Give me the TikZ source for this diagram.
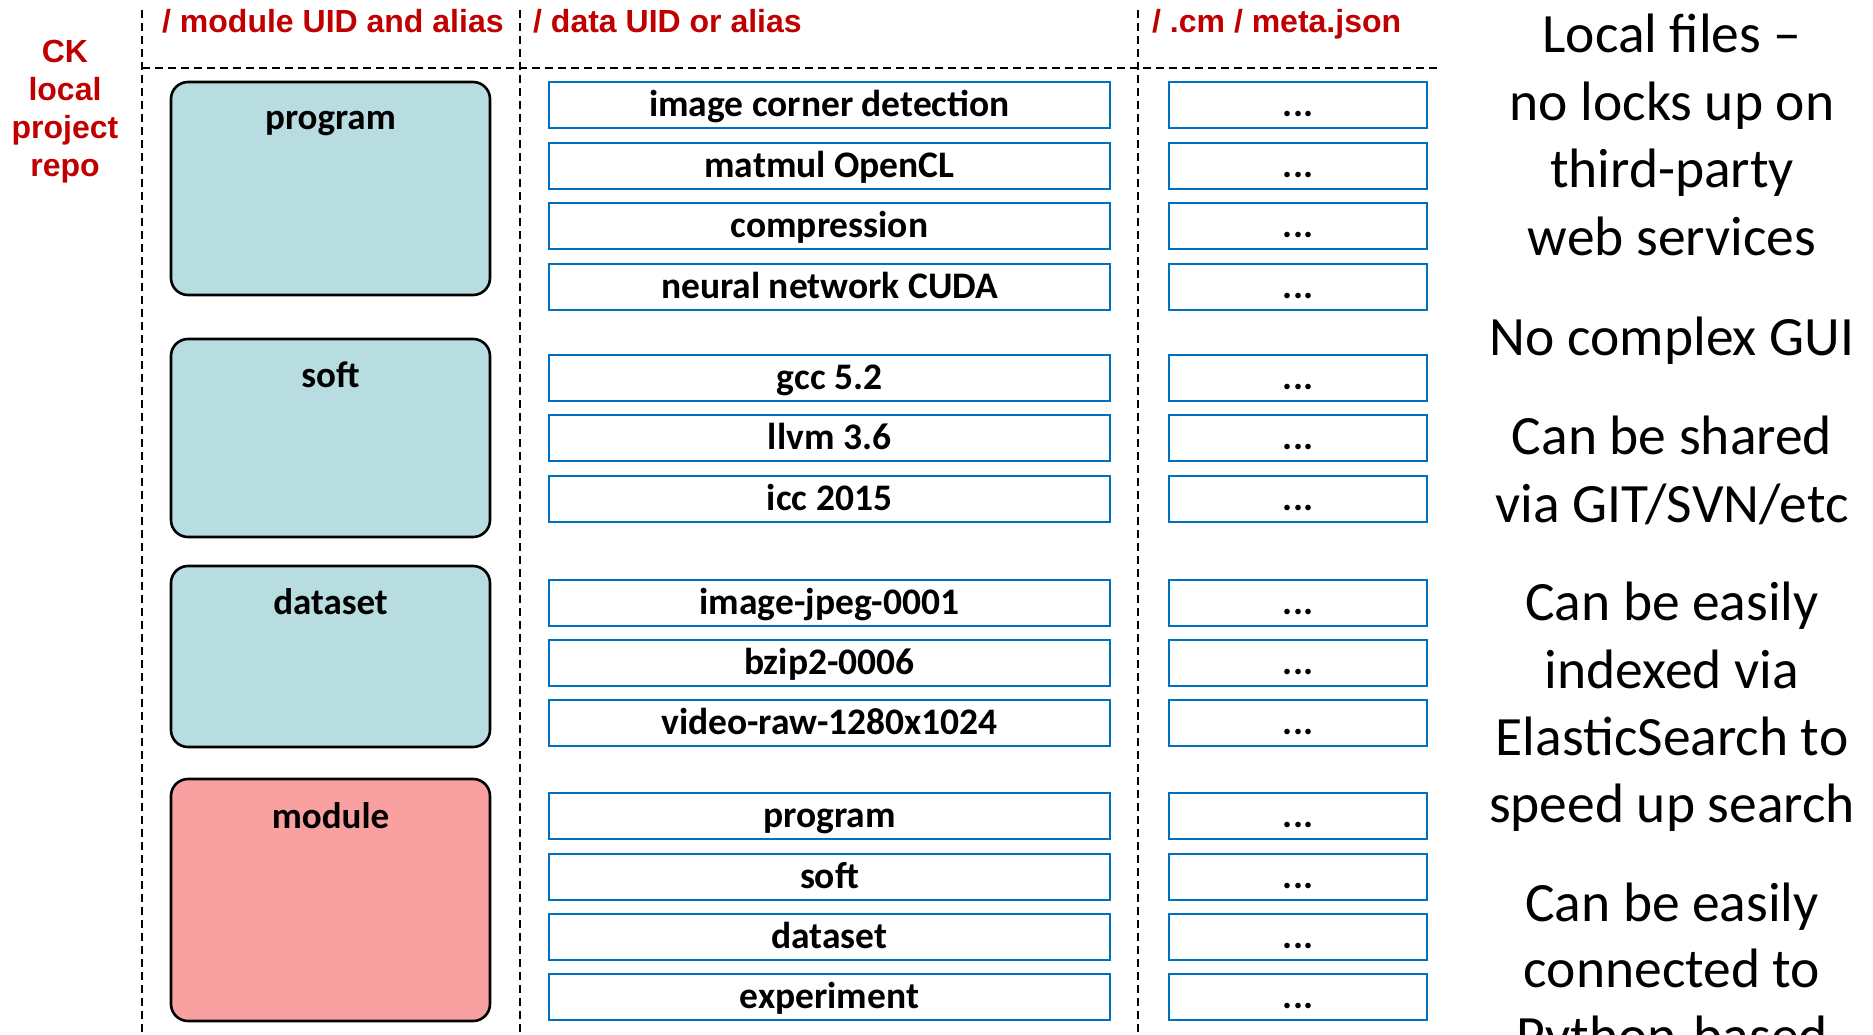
\documentclass[tikz,border=0pt]{standalone}
\usepackage{fontspec}
\newfontfamily\carl{Carlito}
\newfontfamily\arl{Liberation Sans}
\definecolor{ckred}{HTML}{C00000}
\definecolor{ckblue}{HTML}{0070C0}
\definecolor{ckteal}{HTML}{B8DDE0}
\definecolor{ckpink}{HTML}{F9A1A1}
\begin{document}
\begin{tikzpicture}[x=1pt,y=-1pt,
  hdr/.style={anchor=base west, inner sep=0pt, text=ckred, font=\arl\bfseries\fontsize{32}{38}\selectfont},
  cktext/.style={anchor=base, inner sep=0pt, text=ckred, font=\arl\bfseries\fontsize{32}{38}\selectfont},
  modbox/.style={draw=black, line width=2.6pt, rounded corners=17pt, minimum width=319pt, inner sep=0pt},
  modlabel/.style={anchor=base, inner sep=0pt, font=\carl\bfseries\fontsize{37}{40}\selectfont},
  databox/.style={draw=ckblue, line width=2.4pt, minimum width=561pt, minimum height=46pt, inner sep=0pt, text height=23.5pt, text depth=0pt, font=\carl\bfseries\fontsize{37.5}{40}\selectfont},
  metabox/.style={databox, minimum width=258pt},
  note/.style={anchor=base, inner sep=0pt, font=\carl\fontsize{55.5}{67}\selectfont},
  divider/.style={line width=1.8pt, dash pattern=on 8pt off 5pt}
]
\useasboundingbox (0,0) rectangle (1873,1035);
\clip (0,0) rectangle (1873,1035);
\fill[white] (0,0) rectangle (1873,1035);

% dividers
\coordinate (v1t) at (142,10);  \coordinate (v1b) at (142,1035);
\coordinate (v2t) at (520,10);  \coordinate (v2b) at (520,1035);
\coordinate (v3t) at (1138,10); \coordinate (v3b) at (1138,1035);
\coordinate (hl) at (142,68);   \coordinate (hr) at (1437,68);
\draw[divider] (v1t) -- (v1b);
\draw[divider] (v2t) -- (v2b);
\draw[divider] (v3t) -- (v3b);
\draw[divider] (hl) -- (hr);

% headers
\node[hdr] (h1) at (162,33) {/ module UID and alias};
\node[hdr] (h2) at (533,33) {/ data UID or alias};
\node[hdr] (h3) at (1152,33) {/ .cm / meta.json};

% CK local project repo
\node[cktext] (ck1) at (65,63) {CK};
\node[cktext] (ck2) at (65,101) {local};
\node[cktext] (ck3) at (65,139) {project};
\node[cktext] (ck4) at (65,177) {repo};

% module boxes
\node[modbox, fill=ckteal, minimum height=213pt] (mprog) at (330.5,188.5) {};
\node[modlabel] (lprog) at (330.5,130) {program};
\node[modbox, fill=ckteal, minimum height=198pt] (msoft) at (330.5,438) {};
\node[modlabel] (lsoft) at (330.5,387) {soft};
\node[modbox, fill=ckteal, minimum height=181pt] (mdata) at (330.5,656.5) {};
\node[modlabel] (ldata) at (330.5,614) {dataset};
\node[modbox, fill=ckpink, minimum height=242pt] (mmod) at (330.5,900) {};
\node[modlabel] (lmod) at (330.5,828) {module};

% data boxes
\node[databox] (d1) at (829.5,105) {image corner detection};
\node[databox] (d2) at (829.5,166) {matmul OpenCL};
\node[databox] (d3) at (829.5,226) {compression};
\node[databox] (d4) at (829.5,287) {neural network CUDA};
\node[databox] (d5) at (829.5,378) {gcc 5.2};
\node[databox] (d6) at (829.5,438) {llvm 3.6};
\node[databox] (d7) at (829.5,499) {icc 2015};
\node[databox] (d8) at (829.5,603) {image-jpeg-0001};
\node[databox] (d9) at (829.5,663) {bzip2-0006};
\node[databox] (d10) at (829.5,723) {video-raw-1280x1024};
\node[databox] (d11) at (829.5,816) {program};
\node[databox] (d12) at (829.5,877) {soft};
\node[databox] (d13) at (829.5,937) {dataset};
\node[databox] (d14) at (829.5,997) {experiment};

% meta boxes
\node[metabox] (m1) at (1298,105) {...};
\node[metabox] (m2) at (1298,166) {...};
\node[metabox] (m3) at (1298,226) {...};
\node[metabox] (m4) at (1298,287) {...};
\node[metabox] (m5) at (1298,378) {...};
\node[metabox] (m6) at (1298,438) {...};
\node[metabox] (m7) at (1298,499) {...};
\node[metabox] (m8) at (1298,603) {...};
\node[metabox] (m9) at (1298,663) {...};
\node[metabox] (m10) at (1298,723) {...};
\node[metabox] (m11) at (1298,816) {...};
\node[metabox] (m12) at (1298,877) {...};
\node[metabox] (m13) at (1298,937) {...};
\node[metabox] (m14) at (1298,997) {...};

% notes
\node[note] (n1) at (1672,53) {Local files –};
\node[note] (n2) at (1672,121) {no locks up on};
\node[note] (n3) at (1672,188) {third-party};
\node[note] (n4) at (1672,255) {web services};
\node[note] (n5) at (1672,355) {No complex GUI};
\node[note] (n6) at (1672,454) {Can be shared};
\node[note] (n7) at (1672,522) {via GIT/SVN/etc};
\node[note] (n8) at (1672,620) {Can be easily};
\node[note] (n9) at (1672,688) {indexed via};
\node[note] (n10) at (1672,755) {ElasticSearch to};
\node[note] (n11) at (1672,822) {speed up search};
\node[note] (n12) at (1672,921) {Can be easily};
\node[note] (n13) at (1672,987) {connected to};
\node[note] (n14) at (1672,1054) {Python-based};
\end{tikzpicture}
\end{document}
